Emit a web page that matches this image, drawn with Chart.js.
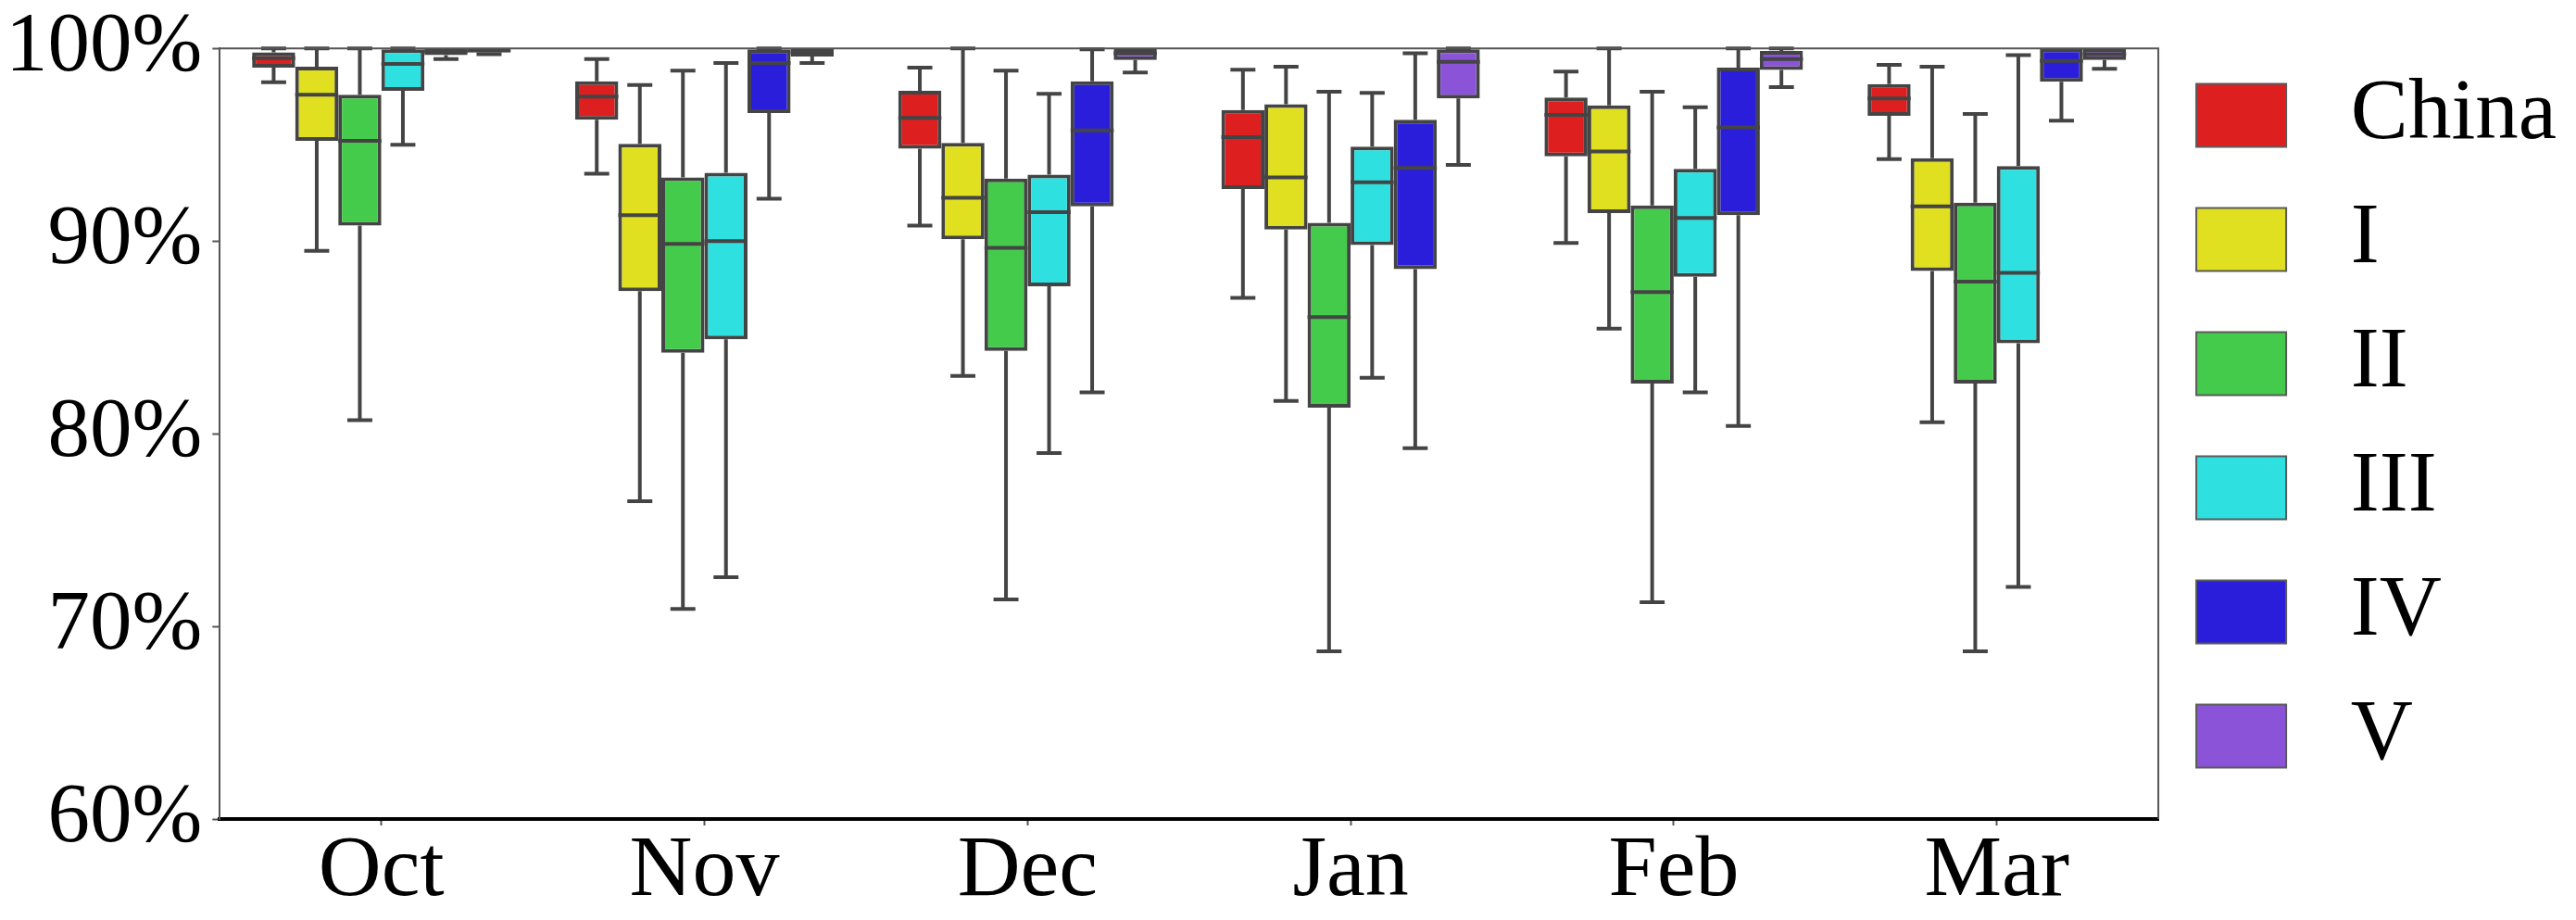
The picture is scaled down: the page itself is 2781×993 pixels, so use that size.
<!DOCTYPE html>
<html>
<head>
<meta charset="utf-8">
<script src="https://cdn.jsdelivr.net/npm/chart.js@4/dist/chart.umd.min.js"></script>
<style>
  html, body { margin: 0; padding: 0; background: #fff; }
  #wrap { width: 2781px; height: 993px; }
</style>
</head>
<body>
<div id="wrap"><canvas id="c" width="2781" height="993"></canvas></div>
<script>
// ---- data (five-number summaries: [whiskerLow, Q1, median, Q3, whiskerHigh]) ----
const months = ['Oct', 'Nov', 'Dec', 'Jan', 'Feb', 'Mar'];
const seriesNames = ['China', 'I', 'II', 'III', 'IV', 'V'];
const yTickValues = [60, 70, 80, 90, 100];

const china = [
  [98.25, 99.0, 99.5, 99.8, 100],
  [93.5, 96.3, 97.5, 98.3, 99.45],
  [90.8, 94.8, 96.4, 97.8, 99.0],
  [87.05, 92.7, 95.4, 96.8, 98.9],
  [89.9, 94.4, 96.55, 97.45, 98.8],
  [94.25, 96.5, 97.4, 98.15, 99.15]
];
const regionI = [
  [89.5, 95.2, 97.6, 99.05, 100],
  [76.5, 87.4, 91.35, 95.05, 98.1],
  [83.0, 90.1, 92.25, 95.1, 100],
  [81.7, 90.6, 93.3, 97.1, 99.05],
  [85.45, 91.45, 94.65, 97.05, 100],
  [80.6, 88.45, 91.8, 94.3, 99.05]
];
const regionII = [
  [80.7, 90.8, 95.2, 97.6, 100],
  [70.9, 84.2, 89.85, 93.3, 98.85],
  [71.4, 84.3, 89.65, 93.25, 98.85],
  [68.7, 81.35, 86.05, 90.95, 97.75],
  [71.25, 82.6, 87.35, 91.85, 97.75],
  [68.7, 82.6, 87.9, 92.0, 96.6]
];
const regionIII = [
  [95.0, 97.8, 99.2, 99.95, 100],
  [72.55, 84.9, 90.0, 93.55, 99.25],
  [79.0, 87.65, 91.5, 93.45, 97.65],
  [82.9, 89.8, 93.05, 94.9, 97.7],
  [82.15, 88.15, 91.2, 93.75, 96.95],
  [72.05, 84.7, 88.35, 93.9, 99.65]
];
const regionIV = [
  [99.45, 99.65, 99.85, 100, 100],
  [92.2, 96.65, 99.25, 99.95, 100],
  [82.15, 91.8, 95.75, 98.3, 99.95],
  [79.25, 88.55, 93.8, 96.3, 99.75],
  [80.4, 91.35, 95.9, 99.0, 100],
  [96.25, 98.27, 99.35, 100, 100]
];
const regionV = [
  [99.7, 99.8, 99.9, 100, 100],
  [99.25, 99.58, 99.8, 100, 100],
  [98.75, 99.4, 99.75, 100, 100],
  [93.95, 97.4, 99.3, 99.95, 100],
  [98.0, 98.88, 99.45, 99.87, 100],
  [98.95, 99.4, 99.7, 100, 100]
];
const seriesStats = [china, regionI, regionII, regionIII, regionIV, regionV];

// ---- styles ----
const fillColors = ['#DE1F20', '#E0DF20', '#45CB4C', '#2EE0DF', '#2A1EDB', '#8A53D8'];
const edgeColor = '#444444';
const LW = 4;
const FONT = 'Liberation Serif, "Times New Roman", serif';

const boxWhiskerPlugin = {
  id: 'boxWhisker',
  beforeDatasetsDraw(chart) {
    const ctx = chart.ctx, ys = chart.scales.y, area = chart.chartArea;
    ctx.save();
    ctx.beginPath();
    ctx.rect(area.left, area.top - 3, area.right - area.left, area.bottom - area.top + 6);
    ctx.clip();
    ctx.strokeStyle = edgeColor;
    ctx.lineWidth = LW;
    ctx.lineCap = 'butt';
    chart.data.datasets.forEach((ds, di) => {
      const meta = chart.getDatasetMeta(di);
      if (meta.hidden) return;
      meta.data.forEach((bar, i) => {
        const s = ds.stats[i];
        const {x, width} = bar.getProps(['x', 'width'], true);
        const capHalf = width * 0.29;
        const yLow = ys.getPixelForValue(s[0]);
        const yQ1 = ys.getPixelForValue(s[1]);
        const yQ3 = ys.getPixelForValue(s[3]);
        const yHigh = ys.getPixelForValue(s[4]);
        ctx.beginPath();
        if (s[4] > s[3]) {
          ctx.moveTo(x, yQ3); ctx.lineTo(x, yHigh);
          ctx.moveTo(x - capHalf, yHigh); ctx.lineTo(x + capHalf, yHigh);
        }
        if (s[0] < s[1]) {
          ctx.moveTo(x, yQ1); ctx.lineTo(x, yLow);
          ctx.moveTo(x - capHalf, yLow); ctx.lineTo(x + capHalf, yLow);
        }
        ctx.stroke();
      });
    });
    ctx.restore();
  },
  afterDatasetsDraw(chart) {
    const ctx = chart.ctx, ys = chart.scales.y, area = chart.chartArea;
    ctx.save();
    ctx.strokeStyle = edgeColor;
    ctx.lineWidth = LW;
    chart.data.datasets.forEach((ds, di) => {
      const meta = chart.getDatasetMeta(di);
      if (meta.hidden) return;
      meta.data.forEach((bar, i) => {
        const s = ds.stats[i];
        const {x, width} = bar.getProps(['x', 'width'], true);
        const yMed = ys.getPixelForValue(s[2]);
        ctx.beginPath();
        ctx.moveTo(x - width / 2, yMed);
        ctx.lineTo(x + width / 2, yMed);
        ctx.stroke();
      });
    });
    // top and right frame lines
    ctx.strokeStyle = '#555555';
    ctx.lineWidth = 2;
    ctx.beginPath();
    ctx.moveTo(area.left, area.top);
    ctx.lineTo(area.right, area.top);
    ctx.lineTo(area.right, area.bottom);
    ctx.stroke();
    ctx.restore();
  }
};

const datasets = seriesNames.map((name, k) => ({
  label: name,
  data: seriesStats[k].map(r => [r[1], r[3]]),
  stats: seriesStats[k],
  backgroundColor: fillColors[k],
  borderColor: edgeColor,
  borderWidth: LW,
  borderSkipped: false,
  categoryPercentage: 0.8,
  barPercentage: 1.0
}));

new Chart(document.getElementById('c'), {
  type: 'bar',
  data: { labels: months, datasets },
  plugins: [boxWhiskerPlugin],
  options: {
    responsive: false,
    animation: false,
    layout: { padding: { top: 37, right: 11, bottom: 2, left: -5 } },
    plugins: {
      tooltip: { enabled: false },
      legend: {
        position: 'right',
        align: 'start',
        labels: {
          font: { family: FONT, size: 93 },
          color: '#000',
          boxWidth: 97,
          boxHeight: 68,
          padding: 41,
          generateLabels(chart) {
            return chart.data.datasets.map((ds, i) => ({
              text: ' ' + ds.label,
              fillStyle: ds.backgroundColor,
              strokeStyle: '#5a5a5a',
              lineWidth: 2,
              fontColor: '#000',
              hidden: false,
              datasetIndex: i
            }));
          }
        }
      }
    },
    scales: {
      x: {
        offset: true,
        grid: { display: true, drawOnChartArea: false, drawTicks: true, tickLength: 7, tickWidth: 2, tickColor: '#555', offset: false },
        border: { display: true, color: '#000', width: 4 },
        ticks: { font: { family: FONT, size: 94, lineHeight: 1.0 }, color: '#000', padding: 3, maxRotation: 0 }
      },
      y: {
        min: 60,
        max: 100,
        afterBuildTicks(scale) { scale.ticks = yTickValues.map(v => ({ value: v })); },
        grid: { display: true, drawOnChartArea: false, drawTicks: true, tickLength: 8, tickWidth: 2, tickColor: '#555' },
        border: { display: true, color: '#555', width: 2 },
        ticks: {
          font: { family: FONT, size: 91, lineHeight: 0.908 },
          color: '#000',
          padding: 11,
          callback: v => v + '%'
        }
      }
    }
  }
});
</script>
</body>
</html>
